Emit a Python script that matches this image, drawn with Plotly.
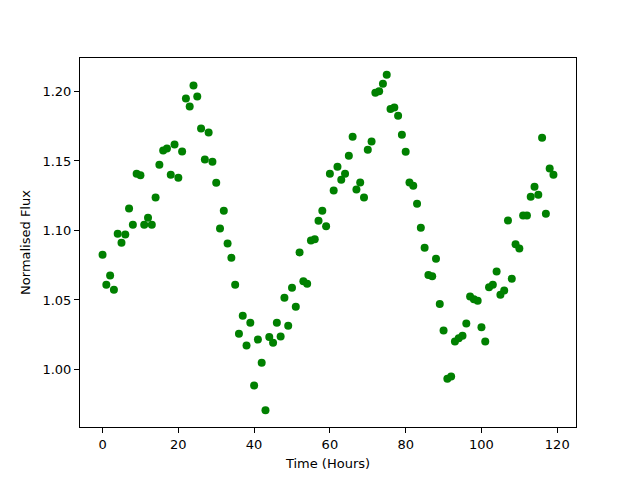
import plotly.graph_objects as go

time_hours = list(range(120))
flux = [
    1.0825, 1.0609, 1.0676, 1.0573, 1.0976, 1.0911, 1.0971, 1.1158, 1.1041, 1.1408,
    1.1398, 1.1041, 1.1091, 1.1041, 1.1237, 1.1473, 1.1576, 1.1590, 1.1400, 1.1619,
    1.1379, 1.1568, 1.1950, 1.1892, 1.2043, 1.1964, 1.1734, 1.1511, 1.1705, 1.1494,
    1.1343, 1.1014, 1.1142, 1.0906, 1.0803, 1.0609, 1.0257, 1.0386, 1.0173, 1.0336,
    0.9885, 1.0216, 1.0048, 0.9707, 1.0233, 1.0192, 1.0336, 1.0237, 1.0516, 1.0314,
    1.0588, 1.0451, 1.0842, 1.0635, 1.0616, 1.0928, 1.0937, 1.1070, 1.1142, 1.1031,
    1.1408, 1.1288, 1.1458, 1.1365, 1.1408, 1.1537, 1.1674, 1.1295, 1.1345, 1.1237,
    1.1580, 1.1640, 1.1990, 1.2002, 1.2055, 1.2120, 1.1873, 1.1885, 1.1825, 1.1688,
    1.1566, 1.1345, 1.1321, 1.1192, 1.1019, 1.0875, 1.0679, 1.0671, 1.0796, 1.0472,
    1.0281, 0.9933, 0.9950, 1.0201, 1.0225, 1.0242, 1.0331, 1.0525, 1.0506, 1.0494,
    1.0304, 1.0201, 1.0592, 1.0609, 1.0705, 1.0537, 1.0568, 1.1072, 1.0652, 1.0901,
    1.0871, 1.1108, 1.1108, 1.1242, 1.1314, 1.1257, 1.1667, 1.1120, 1.1446, 1.1401,
]
x_ticks = [0, 20, 40, 60, 80, 100, 120]
y_ticks = [1.00, 1.05, 1.10, 1.15, 1.20]

def padded(vals, frac=0.05):
    lo, hi = min(vals), max(vals)
    d = (hi - lo) * frac
    return [lo - d, hi + d]

fig = go.Figure(go.Scatter(
    x=time_hours, y=flux, mode="markers",
    marker=dict(color="#008000", size=8, line=dict(width=0)),
))

axis_common = dict(
    showline=True, linecolor="black", linewidth=1, mirror=True,
    ticks="outside", ticklen=5, tickwidth=1, tickcolor="black",
    showgrid=False, zeroline=False, automargin=False,
    tickfont=dict(family="DejaVu Sans", size=13, color="black"),
)

fig.update_layout(
    width=632, height=472,
    margin=dict(l=72, r=64, t=50, b=53),
    paper_bgcolor="white", plot_bgcolor="white",
    showlegend=False,
    font=dict(family="DejaVu Sans", size=13, color="black"),
    xaxis=dict(range=padded(time_hours), tickvals=x_ticks,
               title=dict(text="Time (Hours)", standoff=8,
                          font=dict(family="DejaVu Sans", size=13)),
               **axis_common),
    yaxis=dict(range=padded(flux), tickvals=y_ticks, tickformat=".2f",
               title=dict(text="Normalised Flux", standoff=8,
                          font=dict(family="DejaVu Sans", size=13)),
               **axis_common),
)

fig.write_html("out.html")
